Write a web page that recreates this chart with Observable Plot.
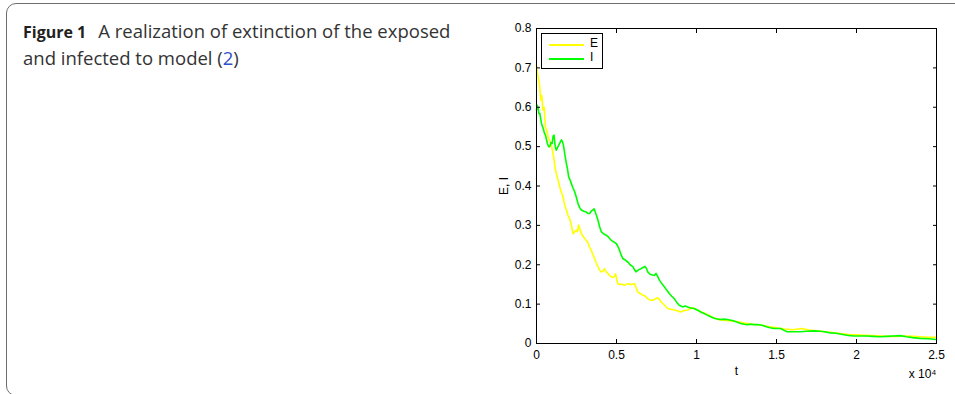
<!DOCTYPE html>
<html><head><meta charset="utf-8">
<script src="https://cdn.jsdelivr.net/npm/d3@7"></script>
<script src="https://cdn.jsdelivr.net/npm/@observablehq/plot@0.6"></script>
<style>
body{margin:0;background:#fff;width:955px;height:394px;overflow:hidden;position:relative;font-family:"Open Sans",sans-serif;}
#card{position:absolute;left:6px;top:3px;width:1000px;height:393px;border:1.5px solid #6e6e6e;border-radius:10px;box-sizing:border-box;}
#cap{position:absolute;left:23px;top:18px;width:470px;font-size:18.5px;line-height:25px;color:#333;white-space:nowrap;}
#cap b{font-weight:700;font-size:16px;color:#231f20;margin-right:12px}
#cap .ref{color:#3050c8}
#chart{position:absolute;left:490px;top:10px;}
#legend{position:absolute;left:541px;top:33px;width:62px;height:36px;border:1px solid #000;background:#fff;box-sizing:border-box;font-family:"Liberation Sans",Arial,sans-serif;font-size:12px;color:#000}
#legend .it{position:absolute;left:7px;height:12px;width:52px}
#legend .sw{position:absolute;left:0;top:5px;width:35px;height:1.5px}
#legend .lb{position:absolute;left:41px;top:-3px}
</style>
</head><body>
<div id="card"></div>
<div id="cap"><b>Figure 1</b>A realization of extinction of the exposed<br>and infected to model (<span class="ref">2</span>)</div>
<div id="chart"></div>
<div id="legend"></div>
<script>
// t in units of 10^4
const seriesNames = ["E", "I"];
const seriesColors = ["#ffff00", "#00ff00"];
const tE = [0,0.005,0.01,0.018,0.027,0.033,0.04,0.048,0.056,0.065,0.073,0.083,0.093,0.1,0.11,0.117,0.124,0.135,0.145,0.155,0.166,0.177,0.187,0.197,0.207,0.218,0.228,0.238,0.249,0.257,0.263,0.272,0.28,0.29,0.3,0.31,0.32,0.331,0.342,0.352,0.363,0.373,0.384,0.395,0.405,0.415,0.425,0.435,0.446,0.457,0.467,0.478,0.488,0.495,0.5,0.508,0.52,0.529,0.55,0.571,0.59,0.612,0.622,0.633,0.648,0.664,0.68,0.695,0.71,0.726,0.742,0.757,0.768,0.778,0.8,0.82,0.84,0.861,0.88,0.902,0.92,0.944,0.96,0.975,0.99,1.006,1.03,1.05,1.08,1.1,1.15,1.2,1.25,1.3,1.35,1.4,1.45,1.5,1.55,1.6,1.66,1.7,1.75,1.8,1.85,1.9,1.95,2.0,2.05,2.1,2.15,2.2,2.25,2.3,2.35,2.4,2.45,2.5];
const vE = [0.707,0.69,0.677,0.66,0.618,0.63,0.593,0.6,0.55,0.54,0.525,0.515,0.504,0.49,0.466,0.445,0.432,0.415,0.398,0.385,0.372,0.35,0.339,0.325,0.318,0.3,0.279,0.283,0.288,0.284,0.301,0.29,0.279,0.273,0.267,0.262,0.258,0.245,0.237,0.226,0.216,0.205,0.195,0.186,0.182,0.183,0.19,0.182,0.178,0.173,0.169,0.168,0.171,0.177,0.165,0.152,0.15,0.151,0.148,0.152,0.15,0.152,0.142,0.131,0.127,0.123,0.12,0.114,0.11,0.11,0.113,0.116,0.112,0.106,0.097,0.089,0.087,0.085,0.083,0.08,0.083,0.085,0.088,0.091,0.088,0.085,0.08,0.077,0.071,0.066,0.06,0.058,0.056,0.052,0.049,0.047,0.043,0.04,0.037,0.035,0.038,0.034,0.032,0.03,0.028,0.025,0.023,0.022,0.021,0.02,0.019,0.018,0.018,0.019,0.018,0.017,0.016,0.016];
const tI = [0,0.005,0.01,0.015,0.021,0.031,0.042,0.049,0.056,0.068,0.076,0.083,0.09,0.098,0.104,0.11,0.117,0.124,0.132,0.139,0.147,0.156,0.163,0.17,0.178,0.187,0.195,0.201,0.21,0.218,0.228,0.239,0.25,0.259,0.27,0.28,0.295,0.311,0.322,0.332,0.342,0.353,0.36,0.367,0.375,0.384,0.395,0.405,0.42,0.436,0.45,0.467,0.483,0.498,0.508,0.519,0.529,0.539,0.555,0.571,0.585,0.602,0.612,0.622,0.637,0.653,0.665,0.678,0.688,0.695,0.71,0.726,0.737,0.747,0.758,0.768,0.784,0.799,0.815,0.83,0.845,0.861,0.876,0.892,0.903,0.913,0.93,0.944,0.965,0.985,1.005,1.027,1.048,1.068,1.09,1.11,1.13,1.151,1.17,1.193,1.215,1.234,1.255,1.276,1.3,1.317,1.34,1.359,1.38,1.4,1.42,1.442,1.46,1.483,1.5,1.525,1.545,1.566,1.6,1.649,1.69,1.732,1.774,1.8,1.836,1.87,1.898,1.94,1.981,2.02,2.064,2.1,2.147,2.19,2.23,2.272,2.313,2.35,2.396,2.45,2.5];
const vI = [0.593,0.605,0.598,0.584,0.584,0.559,0.546,0.535,0.529,0.508,0.5,0.5,0.51,0.508,0.527,0.529,0.5,0.491,0.498,0.504,0.51,0.517,0.512,0.5,0.478,0.457,0.44,0.423,0.415,0.406,0.395,0.385,0.37,0.356,0.345,0.339,0.336,0.334,0.33,0.33,0.336,0.339,0.342,0.334,0.325,0.313,0.296,0.284,0.278,0.275,0.27,0.262,0.258,0.254,0.247,0.237,0.225,0.216,0.212,0.207,0.2,0.195,0.188,0.182,0.187,0.19,0.193,0.196,0.19,0.182,0.176,0.174,0.173,0.178,0.17,0.161,0.152,0.144,0.135,0.127,0.12,0.114,0.105,0.097,0.095,0.093,0.095,0.093,0.09,0.089,0.085,0.08,0.076,0.072,0.068,0.064,0.062,0.061,0.062,0.061,0.059,0.057,0.054,0.051,0.049,0.048,0.049,0.048,0.048,0.047,0.045,0.042,0.04,0.038,0.038,0.038,0.034,0.03,0.03,0.03,0.031,0.032,0.031,0.03,0.027,0.026,0.024,0.021,0.019,0.019,0.019,0.018,0.017,0.018,0.019,0.02,0.017,0.015,0.013,0.012,0.01];
const xTicks = [0, 0.5, 1, 1.5, 2, 2.5];
const yTicks = [0, 0.1, 0.2, 0.3, 0.4, 0.5, 0.6, 0.7, 0.8];
const xLabel = "t";
const yLabel = "E, I";
const xExponent = "x 10⁴";

const E = tE.map((t, i) => ({t, v: vE[i]}));
const I = tI.map((t, i) => ({t, v: vI[i]}));

const chart = Plot.plot({
  width: 460, height: 380,
  marginLeft: 46, marginRight: 14, marginTop: 18, marginBottom: 47,
  style: {fontFamily: "'Liberation Sans', Arial, sans-serif", fontSize: "12px", color: "#000", background: "transparent"},
  x: {domain: [0, 2.5]},
  y: {domain: [0, 0.8]},
  marks: [
    Plot.line(E, {x: "t", y: "v", stroke: seriesColors[0], strokeWidth: 1.6}),
    Plot.line(I, {x: "t", y: "v", stroke: seriesColors[1], strokeWidth: 1.6}),
    Plot.frame({stroke: "#000", strokeWidth: 1}),
    Plot.axisX(xTicks, {anchor: "bottom", tickSize: -4, tickPadding: 11, fontSize: 12, tickFormat: d => String(d), label: xLabel, labelAnchor: "center", labelArrow: "none", labelOffset: 31}),
    Plot.axisX(xTicks, {anchor: "top", tickSize: -4, tickFormat: () => "", label: null}),
    Plot.axisY(yTicks, {anchor: "left", tickSize: -4, tickPadding: 9, fontSize: 12, tickFormat: d => String(d), label: yLabel, labelAnchor: "center", labelArrow: "none", labelOffset: 37}),
    Plot.axisY(yTicks, {anchor: "right", tickSize: -4, tickFormat: () => "", label: null}),
    Plot.text([xExponent], {frameAnchor: "bottom-right", text: d => d, textAnchor: "end", fontSize: 12, dy: 34})
  ]
});
document.getElementById("chart").appendChild(chart);

const lg = document.getElementById("legend");
seriesNames.forEach((n, i) => {
  const it = document.createElement("div");
  it.className = "it";
  it.style.top = (5 + i * 14) + "px";
  it.innerHTML = `<div class="sw" style="background:${seriesColors[i]}"></div><div class="lb">${n}</div>`;
  lg.appendChild(it);
});
</script>
</body></html>
